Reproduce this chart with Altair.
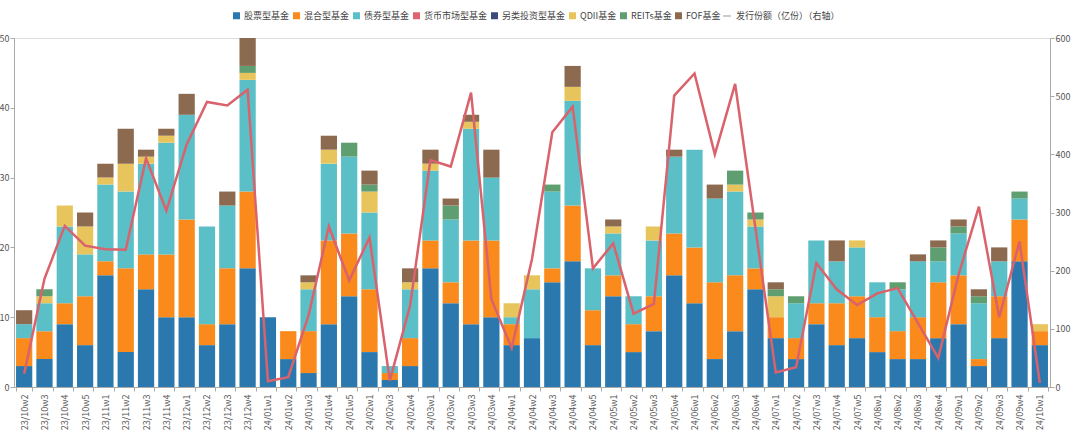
import altair as alt
import pandas as pd

weeks = ["23/10w2","23/10w3","23/10w4","23/10w5","23/11w1","23/11w2","23/11w3","23/11w4",
         "23/12w1","23/12w2","23/12w3","23/12w4","24/01w1","24/01w2","24/01w3","24/01w4",
         "24/01w5","24/02w1","24/02w3","24/02w4","24/03w1","24/03w2","24/03w3","24/03w4",
         "24/04w1","24/04w2","24/04w3","24/04w4","24/04w5","24/05w1","24/05w2","24/05w3",
         "24/05w4","24/06w1","24/06w2","24/06w3","24/06w4","24/07w1","24/07w2","24/07w3",
         "24/07w4","24/07w5","24/08w1","24/08w2","24/08w3","24/08w4","24/09w1","24/09w2",
         "24/09w3","24/09w4","24/10w1"]

stock  = [3,4,9,6,16,5,14,10,10,6,9,17,10,4,2,9,13,5,1,3,17,12,9,10,6,7,15,18,6,13,5,8,16,12,4,8,14,7,4,9,6,7,5,4,4,7,9,3,7,18,6]
hybrid = [4,4,3,7,2,12,5,9,14,3,8,11,0,4,6,12,9,9,1,4,4,3,12,11,3,0,2,8,5,3,4,5,6,8,11,8,3,3,3,3,6,6,5,4,6,8,7,1,6,6,2]
bond   = [2,4,11,6,11,11,13,16,15,14,9,16,0,0,6,11,11,11,1,7,10,9,16,9,1,7,11,15,6,6,4,8,11,14,12,12,6,0,5,9,6,7,5,6,8,3,6,8,5,3,0]
money  = [0]*51
alter  = [0]*51
qdii   = [0,1,3,4,1,4,1,1,0,0,0,1,0,0,1,2,0,3,0,1,1,0,1,0,2,2,0,2,0,1,0,2,0,0,0,1,1,3,0,0,0,1,0,0,0,0,0,0,0,0,1]
reits  = [0,1,0,0,0,0,0,0,0,0,0,1,0,0,0,0,2,1,0,0,0,2,0,0,0,0,1,0,0,0,0,0,0,0,0,2,1,1,1,0,0,0,0,1,0,2,1,1,0,1,0]
fof    = [2,0,0,2,2,5,1,1,3,0,2,4,0,0,1,2,0,2,0,2,2,1,1,4,0,0,0,3,0,1,0,0,1,0,2,0,0,1,0,0,3,0,0,0,1,1,1,1,2,0,0]
issue  = [23,186,277,243,237,236,393,303,417,490,484,511,10,17,123,276,183,257,11,140,390,379,506,151,
          67,220,438,482,204,247,126,143,501,539,400,521,273,25,34,213,168,141,161,170,110,50,193,310,120,250,7]

types = ["股票型基金","混合型基金","债券型基金","货币市场型基金","另类投资型基金","QDII基金","REITs基金","FOF基金"]
colors = ["#2a78ad","#f98a1b","#5bbfc7","#e0646e","#3a4a7a","#e8c55c","#5e9e70","#8c6a50"]
series = [stock, hybrid, bond, money, alter, qdii, reits, fof]
line_name = "发行份额（亿份）（右轴）"

rows = []
for k, (t, s) in enumerate(zip(types, series)):
    for w, v in zip(weeks, s):
        if v > 0:
            rows.append({"week": w, "type": t, "count": v, "ord": k})
bars_df = pd.DataFrame(rows)
line_df = pd.DataFrame({"week": weeks, "issue": issue, "name": line_name})

FONT = "Noto Sans CJK SC"

x_enc = alt.X("week:N", sort=weeks, title=None,
              scale=alt.Scale(paddingInner=0.2, paddingOuter=0.1),
              axis=alt.Axis(labelAngle=-90, labelFontSize=9, labelColor="#555", labelFont=FONT,
                            tickBand="extent", tickSize=4, tickColor="#aaa", domainColor="#aaa",
                            labelPadding=3))

bars = alt.Chart(bars_df).mark_bar().encode(
    x=x_enc,
    y=alt.Y("sum(count):Q", title=None, scale=alt.Scale(domain=[0, 50]),
            axis=alt.Axis(values=[0,10,20,30,40,50], grid=False, tickSize=4, tickColor="#aaa",
                          domainColor="#aaa", labelFontSize=9, labelColor="#555", labelPadding=1,
                          labelFont=FONT)),
    color=alt.Color("type:N", scale=alt.Scale(domain=types, range=colors),
                    legend=alt.Legend(title=None, orient="none", legendX=218, legendY=-27,
                                      direction="horizontal", symbolType="square", symbolSize=49,
                                      symbolStrokeWidth=0, labelFontSize=9, labelFont=FONT,
                                      labelColor="#444", labelOffset=3, columnPadding=2)),
    order=alt.Order("ord:Q", sort="ascending"),
)

line = alt.Chart(line_df).mark_line(color="#d9626c", strokeWidth=2.5).encode(
    x=alt.X("week:N", sort=weeks),
    y=alt.Y("issue:Q", title=None, scale=alt.Scale(domain=[0, 600]),
            axis=alt.Axis(orient="right", values=[0,100,200,300,400,500,600], grid=False,
                          tickSize=4, tickColor="#aaa", domainColor="#aaa", labelFontSize=9,
                          labelColor="#555", labelPadding=1, labelFont=FONT)),
    opacity=alt.Opacity("name:N", scale=alt.Scale(domain=[line_name], range=[1]),
                        legend=alt.Legend(title=None, orient="none", legendX=708, legendY=-27,
                                          symbolType="stroke", symbolSize=64, symbolStrokeColor="#bbb",
                                          symbolStrokeWidth=1.5, labelFontSize=9, labelFont=FONT,
                                          labelColor="#444", labelOffset=4)),
)

chart = alt.layer(bars, line).resolve_scale(y="independent", color="independent", opacity="independent").properties(
    width=1036, height=349,
    autosize=alt.AutoSizeParams(type="none"),
    padding={"left": 14, "top": 38, "right": 30, "bottom": 57},
).configure_view(stroke=None).configure(background="white")

chart.save("out.html", embed_options={"renderer": "svg", "actions": False})
